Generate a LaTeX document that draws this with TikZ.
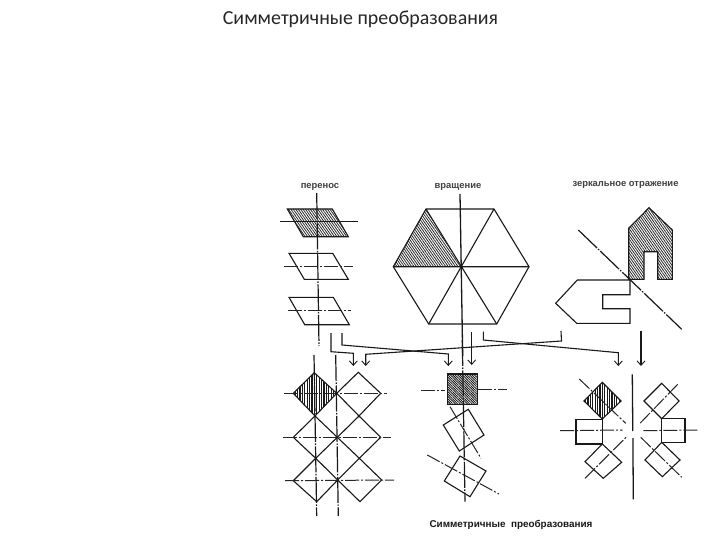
\documentclass[tikz,border=0pt]{standalone}
\usepackage{fontspec}
\setmainfont{Liberation Sans}
\newfontfamily\titlefont{Carlito}
\usetikzlibrary{arrows.meta,patterns.meta}
\tikzset{
  shapeline/.style={draw=black!90,line width=1.1pt,line join=miter},
  axis/.style={draw=black!90,line width=1.2pt,dash pattern=on 26pt off 1.5pt on 1.5pt off 1.5pt},
  axisthin/.style={draw=black!85,line width=1pt,dash pattern=on 14pt off 2pt on 2pt off 2pt},
  solidaxis/.style={draw=black!90,line width=1.3pt},
  hatchdiag/.style={pattern={Lines[angle=-55,distance=2pt,line width=0.8pt]},pattern color=black!85},
  hatchvert/.style={pattern={Lines[angle=90,distance=2.4pt,line width=1.1pt]},pattern color=black!90},
  hatchdense/.style={pattern={Lines[angle=-45,distance=1.7pt,line width=0.9pt]},pattern color=black!90},
  conn/.style={draw=black!90,line width=1.1pt,line join=miter},
  arr/.style={conn,-{Straight Barb[length=4.5pt,width=8pt,line width=0.9pt]}},
  lab/.style={font=\bfseries\fontsize{9.4}{11}\selectfont,text=black!75,inner sep=0pt},
}
\begin{document}
\begin{tikzpicture}[x=1pt,y=-1pt]
\useasboundingbox (0,0) rectangle (720,540);
\fill[white] (0,0) rectangle (720,540);
% titles
\node[font=\titlefont\fontsize{19.9}{22}\selectfont,text=black!85,inner sep=0pt] (title) at (360.5,19) {Симметричные преобразования};
\node[lab] (lperenos) at (320,187) {перенос};
\node[lab] (lvrash) at (458,187) {вращение};
\node[lab] (lzerk) at (625.5,185) {зеркальное отражение};
\node[font=\bfseries\fontsize{9.9}{11}\selectfont,text=black!90,inner sep=0pt] (lcaption) at (511,525) {Симметричные\ \ преобразования};

% translation
\draw[shapeline,hatchdiag] (287.3,209) -- (332.3,209) -- (348.3,236.7) -- (303.3,236.7) -- cycle;
\draw[shapeline] (289,253.3) -- (332.7,253.3) -- (348.3,279.3) -- (304.3,279.3) -- cycle;
\draw[shapeline] (289,297.3) -- (333.3,297.3) -- (349.3,324.7) -- (304.7,324.7) -- cycle;
\draw[solidaxis] (280,221.7) -- (358,221.7);
\draw[axisthin] (284,266) -- (353,266);
\draw[axisthin] (288,310) -- (351,310);
\draw[axis] (316.7,193) -- (319,346);

% rotation
\coordinate (hc) at (461,266.7);
\coordinate (h1) at (393.3,266.7);
\coordinate (h2) at (426,209);
\coordinate (h3) at (494,209);
\coordinate (h4) at (529,266.7);
\coordinate (h5) at (496.7,324);
\coordinate (h6) at (428.7,324);
\fill[hatchdiag] (h1) -- (h2) -- (hc) -- cycle;
\draw[shapeline] (h1) -- (h2) -- (h3) -- (h4) -- (h5) -- (h6) -- cycle;
\draw[shapeline] (h1) -- (h4) (h2) -- (h5) (h3) -- (h6);
\draw[solidaxis] (460,194) -- (462.7,356);

% reflection
\draw[shapeline,hatchdiag,even odd rule] (649,207.7) -- (672.3,230) -- (672.3,279.3) -- (657.7,279.3) -- (657.7,251.7) -- (644,251.7) -- (644,279.3) -- (628.7,279.3) -- (628.7,228.3) -- cycle;
\draw[shapeline] (630,280) -- (577.3,280) -- (555.7,303.3) -- (576.7,323.3) -- (630,323.3) -- (630,308.7) -- (602.7,308.7) -- (602.7,294.7) -- (630,294.7) -- cycle;
\draw[axis] (578.3,230) -- (681.7,329.3);

% connectors
\coordinate (a1s) at (331,333); \coordinate (a1k) at (331,351.7); \coordinate (a1j) at (353.3,353.3); \coordinate (a1e) at (353.3,366);
\coordinate (a2s) at (342,333); \coordinate (a2k) at (342,345); \coordinate (a2j) at (448.3,354); \coordinate (a2e) at (448.3,366);
\coordinate (a3s) at (561,331); \coordinate (a3k) at (561.5,341); \coordinate (a3j) at (365.7,354.3); \coordinate (a3e) at (365.7,366);
\coordinate (a4s) at (471.7,332); \coordinate (a4e) at (471.7,365);
\coordinate (a5s) at (483.3,331.7); \coordinate (a5k) at (483.3,340); \coordinate (a5j) at (618.3,352.7); \coordinate (a5e) at (618.3,366);
\coordinate (a6s) at (641,330.7); \coordinate (a6e) at (641,366);
\draw[arr] (a1s) -- (a1k) -- (a1j) -- (a1e);
\draw[arr] (a2s) -- (a2k) -- (a2j) -- (a2e);
\draw[arr] (a3s) -- (a3k) -- (a3j) -- (a3e);
\draw[arr] (a4s) -- (a4e);
\draw[arr] (a5s) -- (a5k) -- (a5j) -- (a5e);
\draw[arr] (a6s) -- (a6e);

% lattice (translation result)
\draw[shapeline,hatchvert] (293.3,393.3) -- (314.3,372.7) -- (336.7,393.3) -- (315,416) -- cycle;
\draw[shapeline] (336.7,393.3) -- (358.3,372.3) -- (380.7,393.3) -- (359,416) -- cycle;
\draw[shapeline] (293.3,437.3) -- (315,416) -- (337.3,437.3) -- (315.7,458.3) -- cycle;
\draw[shapeline] (337.3,437.3) -- (359,416) -- (380.7,437.3) -- (359.3,458.3) -- cycle;
\draw[shapeline] (293.3,480.7) -- (315.7,458.3) -- (337.7,480) -- (316.7,501.7) -- cycle;
\draw[shapeline] (337.7,480) -- (359.3,458.3) -- (381.7,480) -- (360,501.7) -- cycle;
\draw[axisthin] (284,393.3) -- (386.7,393.3);
\draw[axisthin] (282.7,437.3) -- (390.7,437.3);
\draw[axisthin] (285,480.7) -- (394,480);
\draw[axis] (314,355) -- (316.7,516);
\draw[axis] (335.7,355) -- (338.3,516);

% rotation result
\draw[shapeline,hatchdense] (447.3,374) rectangle (477.7,404.3);
\draw[axisthin] (421,390) -- (445,390);
\draw[axisthin] (478.3,389.3) -- (506.7,389.3);
\draw[shapeline] (468.3,409.3) -- (484,435) -- (459.3,451) -- (443.3,425) -- cycle;
\draw[axisthin] (450,406.7) -- (481,458.3);
\draw[shapeline] (460,456) -- (486,471) -- (470,496.7) -- (444.3,481) -- cycle;
\draw[axisthin] (427.3,455) -- (499,494);
\draw[axis] (462.3,340) -- (465,501.7);

% reflection result
\draw[solidaxis] (632.3,374.3) -- (632.8,431);
\draw[solidaxis] (632.9,438) -- (633.3,499.3);
\draw[shapeline,hatchvert] (602.3,382.3) -- (621,401) -- (602.3,419) -- (584,401) -- cycle;
\draw[axisthin] (579.3,379) -- (625.7,423.3);
\draw[shapeline] (576,419.3) rectangle (602.7,444);
\draw[axisthin] (560,430.7) -- (622.7,430);
\draw[shapeline] (602.3,444) -- (621.7,462.3) -- (603.3,478.3) -- (585,461.7) -- cycle;
\draw[axisthin] (585,478.3) -- (626.7,436.7);
\draw[shapeline] (661.7,383.3) -- (679,401) -- (661.7,418.7) -- (644,401) -- cycle;
\draw[axisthin] (677.7,384.3) -- (640,423.3);
\draw[shapeline] (661.7,418.7) rectangle (685,442.3);
\draw[axisthin] (643.3,430.7) -- (697.3,430);
\draw[shapeline] (661.7,442.3) -- (680,460) -- (662.3,476.7) -- (645,460) -- cycle;
\draw[axisthin] (640.7,437.3) -- (681.7,477.3);
\end{tikzpicture}
\end{document}
